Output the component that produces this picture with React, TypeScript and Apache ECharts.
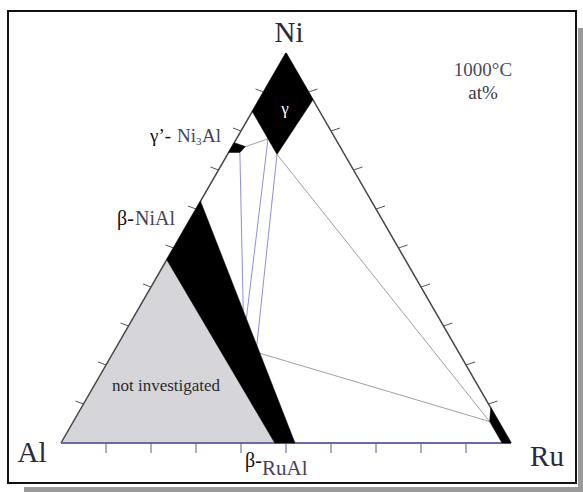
import React, { useEffect, useRef } from 'react';
import * as echarts from 'echarts';

// Compositions are [Al, Ni, Ru] in at%
type Comp = [number, number, number];

const cornerLabels = ['Al', 'Ni', 'Ru'];
const tickValues = [10, 20, 30, 40, 50, 60, 70, 80, 90];

const gammaRegion: Comp[] = [[0, 100, 0], [15, 85, 0], [15, 74, 11], [0, 88, 12]];
const gammaPrimeRegion: Comp[] = [[23, 77, 0], [25.5, 74.5, 0], [23, 74.5, 2.5], [21, 76, 3]];
const betaBand: Comp[] = [[53, 47, 0], [38, 62, 0], [48, 0, 52], [52.5, 0, 47.5]];
const ruRegion: Comp[] = [[0, 9, 91], [2, 5.5, 92.5], [2, 0, 98], [0, 0, 100]];
const notInvestigated: Comp[] = [[100, 0, 0], [53, 47, 0], [52.5, 0, 47.5]];

const blueTieLines: Comp[][] = [
  [[23, 74.5, 2.5], [42.5, 34, 23.5]],
  [[15, 78, 7], [42.8, 32, 25.2]],
  [[15, 74, 11], [44, 25, 31]],
];
const grayTieLines: Comp[][] = [
  [[21, 76, 3], [15, 78, 7]],
  [[15, 74, 11], [2, 5.5, 92.5]],
  [[44.3, 23, 32.7], [2, 5.5, 92.5]],
];

function toXY(c: Comp): [number, number] {
  const [al, ni, ru] = c;
  const s = al + ni + ru;
  return [(ru + ni / 2) / s, ni / s];
}

const SERIF = '"Liberation Serif", "DejaVu Serif", serif';

export default function App() {
  const ref = useRef<HTMLDivElement>(null);
  useEffect(() => {
    if (!ref.current) return;
    const chart = echarts.init(ref.current, undefined, { renderer: 'svg' });

    const blackRegions = [gammaRegion, gammaPrimeRegion, betaBand, ruRegion];

    const polySeries = (regions: Comp[][], fill: string, z: number) => ({
      type: 'custom',
      coordinateSystem: 'cartesian2d',
      z,
      silent: true,
      data: regions.map(() => [0, 0]),
      renderItem: (params: any, api: any) => {
        const pts = regions[params.dataIndex].map((c) => api.coord(toXY(c)));
        return { type: 'polygon', shape: { points: pts }, style: { fill, stroke: fill, lineWidth: 0.5 } };
      },
    });

    const lineSeries = (lines: Comp[][], color: string, z: number) => ({
      type: 'custom',
      coordinateSystem: 'cartesian2d',
      z,
      silent: true,
      data: lines.map(() => [0, 0]),
      renderItem: (params: any, api: any) => {
        const [a, b] = lines[params.dataIndex].map((c) => api.coord(toXY(c)));
        return {
          type: 'line',
          shape: { x1: a[0], y1: a[1], x2: b[0], y2: b[1] },
          style: { stroke: color, lineWidth: 1 },
        };
      },
    });

    const frameSeries = {
      type: 'custom',
      coordinateSystem: 'cartesian2d',
      z: 3,
      silent: true,
      data: [[0, 0]],
      renderItem: (params: any, api: any) => {
        const A = api.coord(toXY([100, 0, 0]));
        const B = api.coord(toXY([0, 100, 0]));
        const C = api.coord(toXY([0, 0, 100]));
        const children: any[] = [
          { type: 'line', shape: { x1: A[0], y1: A[1], x2: B[0], y2: B[1] }, style: { stroke: '#444', lineWidth: 1.5 } },
          { type: 'line', shape: { x1: B[0], y1: B[1], x2: C[0], y2: C[1] }, style: { stroke: '#444', lineWidth: 1.5 } },
          { type: 'line', shape: { x1: A[0], y1: A[1], x2: C[0], y2: C[1] }, style: { stroke: '#6a6aa8', lineWidth: 2 } },
        ];
        tickValues.forEach((v) => {
          const l = api.coord(toXY([100 - v, v, 0]));
          children.push({ type: 'line', shape: { x1: l[0], y1: l[1], x2: l[0] - 8, y2: l[1] - 3 }, style: { stroke: '#555', lineWidth: 1 } });
          const r = api.coord(toXY([0, v, 100 - v]));
          children.push({ type: 'line', shape: { x1: r[0], y1: r[1], x2: r[0] + 9, y2: r[1] - 3 }, style: { stroke: '#555', lineWidth: 1 } });
          const b = api.coord(toXY([100 - v, 0, v]));
          children.push({ type: 'line', shape: { x1: b[0], y1: b[1], x2: b[0], y2: b[1] + 10 }, style: { stroke: '#5a5a8a', lineWidth: 1 } });
        });
        return { type: 'group', children };
      },
    };

    const txt = (text: string, x: number, y: number, size: number, fill: string, align = 'center', weight = 'normal') => ({
      type: 'text',
      x,
      y,
      z: 10,
      style: { text, fill, font: `${weight} ${size}px ${SERIF}`, align, verticalAlign: 'middle' },
    });

    chart.setOption({
      animation: false,
      backgroundColor: '#ffffff',
      grid: { left: 61, top: 53, width: 450, height: 390, containLabel: false },
      xAxis: { type: 'value', min: 0, max: 1, show: false },
      yAxis: { type: 'value', min: 0, max: 1, show: false },
      series: [
        polySeries([notInvestigated], '#d5d5da', 1),
        lineSeries(blueTieLines, '#9090d8', 2),
        lineSeries(grayTieLines, '#a0a0a0', 2),
        frameSeries,
        polySeries(blackRegions, '#000000', 4),
      ],
      graphic: [
        // shadow
        { type: 'rect', z: 0, shape: { x: 578, y: 28, width: 5, height: 464 }, style: { fill: '#9a9a9a' } },
        { type: 'rect', z: 0, shape: { x: 24, y: 487, width: 559, height: 5 }, style: { fill: '#9a9a9a' } },
        // frame
        { type: 'rect', z: 0, shape: { x: 8, y: 11, width: 568, height: 472 }, style: { fill: 'none', stroke: '#111', lineWidth: 2 } },
        // corner labels
        txt(cornerLabels[1], 289, 32, 29, '#2a2a38'),
        txt(cornerLabels[0], 32, 452, 29, '#2a2a38'),
        txt(cornerLabels[2], 547, 456, 29, '#2a2a38'),
        txt('1000°C', 483, 69, 19, '#4a4a58'),
        txt('at%', 483, 92, 19, '#3a3a48'),
        txt('γ', 285, 108, 17, '#ffffff'),
        // γ'-Ni3Al
        txt('γ’-', 150, 135, 19, '#111', 'left'),
        txt('Ni', 177, 135, 19, '#4a3f5c', 'left'),
        txt('3', 196, 141, 11, '#4a3f5c', 'left'),
        txt('Al', 202, 135, 19, '#4a3f5c', 'left'),
        // β-NiAl
        txt('β-', 117, 218, 20, '#111', 'left'),
        txt('NiAl', 135, 218, 20, '#4a3f5c', 'left'),
        // β-RuAl
        txt('β-', 245, 460, 20, '#111', 'left'),
        txt('RuAl', 262, 468, 21, '#4a3f5c', 'left'),
        txt('not investigated', 166, 385, 17, '#2a2a2a'),
      ],
    });
    return () => chart.dispose();
  }, []);
  return <div ref={ref} style={{ position: 'absolute', left: 0, top: 0, width: 583, height: 492 }} />;
}
